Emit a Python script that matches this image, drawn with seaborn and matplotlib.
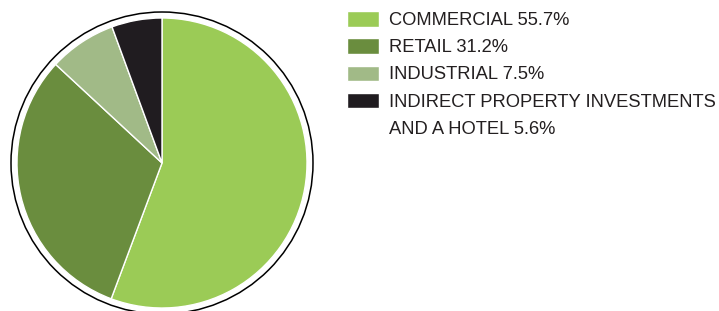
import matplotlib.pyplot as plt
import seaborn as sns
from matplotlib.patches import Circle, Patch

sns.set_style("white")
plt.rcParams["font.family"] = ["Liberation Sans", "DejaVu Sans"]

# portfolio split
sectors = ["COMMERCIAL", "RETAIL", "INDUSTRIAL", "INDIRECT PROPERTY INVESTMENTS\nAND A HOTEL"]
shares = [55.7, 31.2, 7.5, 5.6]
colors = ["#9bcb56", "#6a8d3e", "#a1ba87", "#201c20"]

W, H = 719, 311
fig = plt.figure(figsize=(W / 100, H / 100), dpi=100)

# pie centre at (162, 163) px, radius 145 px
r_px = 145
cx, cy = 162, H - 163
ax = fig.add_axes([0, 0, 2 * cx / W, 1])
wedges, _ = ax.pie(
    shares,
    colors=colors,
    startangle=90,
    counterclock=False,
    radius=1,
    wedgeprops=dict(edgecolor="white", linewidth=1),
)
ax.add_patch(Circle((0, 0), 151 / r_px, fill=False, edgecolor="black", linewidth=1.1))
ax.set_aspect("auto")
ax.set_xlim(-cx / r_px, cx / r_px)
ax.set_ylim(-cy / r_px, (H - cy) / r_px)
ax.axis("off")

# one legend row per text line, so the swatch sits next to the first line
handles, labels = [], []
for w, s, v in zip(wedges, sectors, shares):
    lines = f"{s} {v}%".split("\n")
    handles.append(w)
    labels.append(lines[0])
    for extra in lines[1:]:
        handles.append(Patch(facecolor="none", edgecolor="none"))
        labels.append(extra)

leg = fig.legend(
    handles,
    labels,
    loc="upper left",
    bbox_to_anchor=(340 / W, 1 - 4 / H),
    frameon=False,
    fontsize=13.2,
    handlelength=1.7,
    handleheight=0.9,
    handletextpad=0.55,
    labelspacing=0.5,
    borderaxespad=0,
    labelcolor="#231f20",
)

fig.savefig("out.png", dpi=100)
